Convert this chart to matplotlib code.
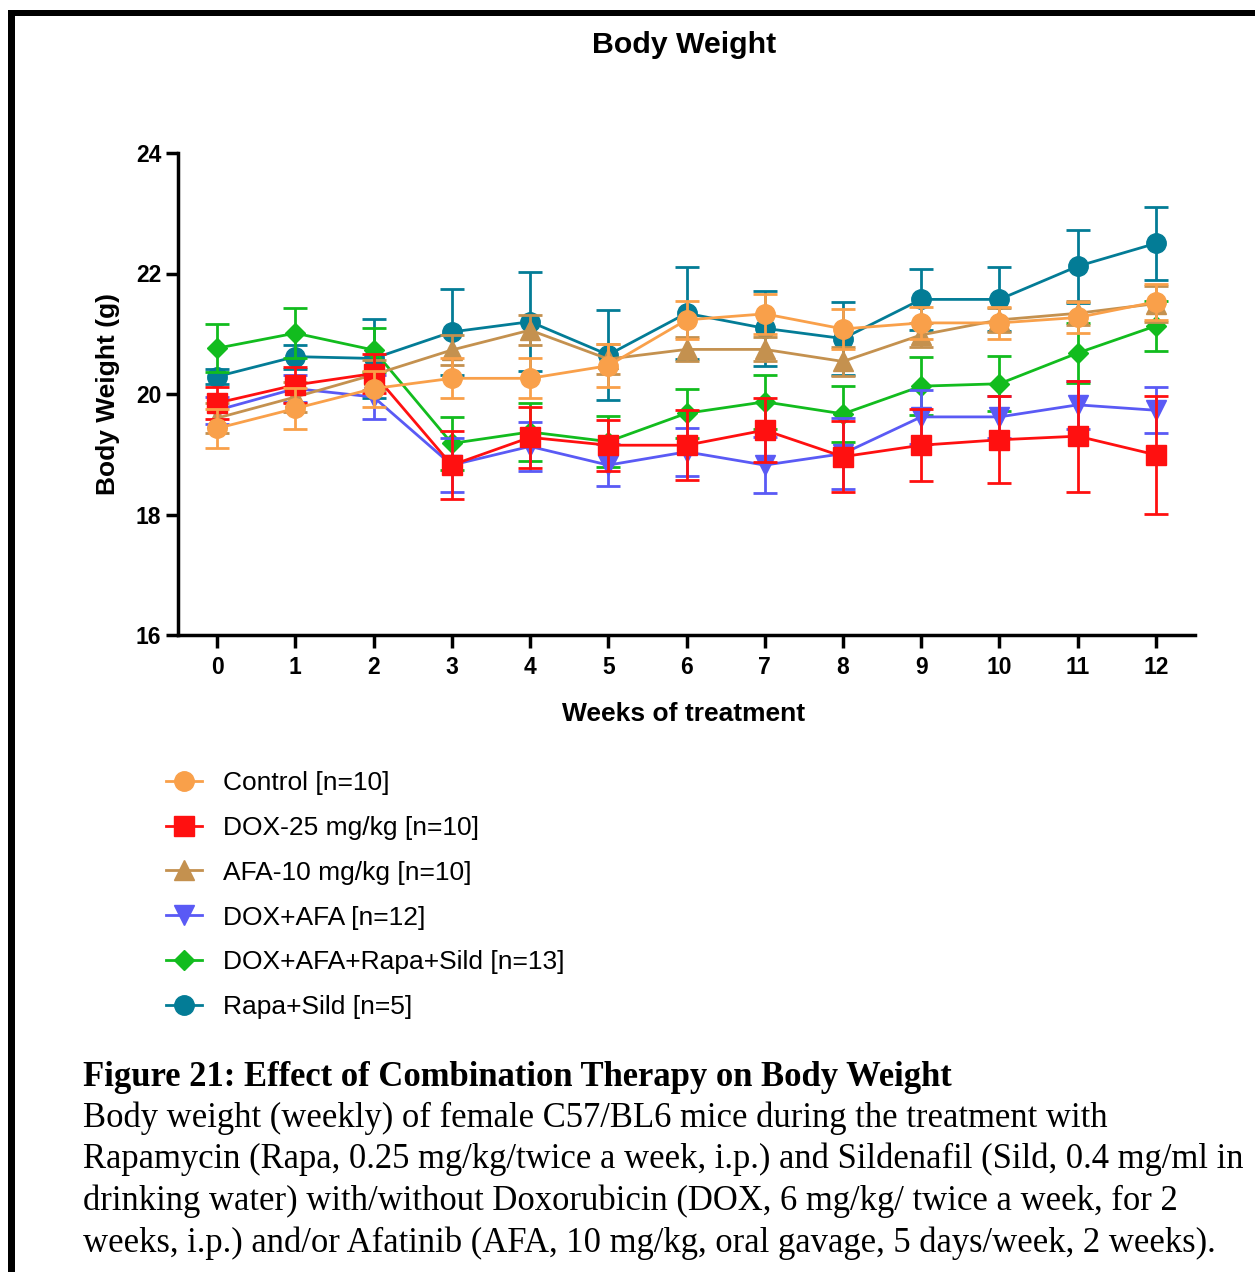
import matplotlib
matplotlib.use("Agg")
import matplotlib.pyplot as plt
from matplotlib.lines import Line2D
from matplotlib.patches import Rectangle

# ---------------- data ----------------
weeks = list(range(13))
week_labels = [str(w) for w in weeks]
y_ticks = [16, 18, 20, 22, 24]

group_names = ["Control [n=10]", "DOX-25 mg/kg [n=10]", "AFA-10 mg/kg [n=10]",
               "DOX+AFA [n=12]", "DOX+AFA+Rapa+Sild [n=13]", "Rapa+Sild [n=5]"]

control = [19.43, 19.76, 20.09, 20.26, 20.26, 20.47, 21.23, 21.33, 21.08, 21.18, 21.18, 21.27, 21.53]
control_err = [0.32, 0.34, 0.30, 0.33, 0.33, 0.36, 0.31, 0.33, 0.33, 0.26, 0.26, 0.26, 0.30]

dox = [19.85, 20.15, 20.34, 18.82, 19.28, 19.15, 19.15, 19.40, 18.96, 19.15, 19.24, 19.30, 18.99]
dox_err = [0.27, 0.30, 0.32, 0.57, 0.50, 0.42, 0.58, 0.53, 0.59, 0.60, 0.72, 0.92, 0.98]

afa = [19.60, 19.95, 20.32, 20.73, 21.06, 20.58, 20.74, 20.74, 20.54, 20.98, 21.23, 21.34, 21.50]
afa_err = [0.25, 0.25, 0.25, 0.25, 0.25, 0.25, 0.20, 0.20, 0.24, 0.20, 0.20, 0.20, 0.30]

dox_afa = [19.73, 20.09, 19.95, 18.82, 19.13, 18.82, 19.04, 18.82, 19.01, 19.62, 19.62, 19.82, 19.73]
dox_afa_err = [0.22, 0.22, 0.37, 0.45, 0.40, 0.35, 0.40, 0.47, 0.59, 0.45, 0.35, 0.40, 0.38]

combo = [20.76, 21.01, 20.73, 19.18, 19.37, 19.21, 19.68, 19.87, 19.67, 20.13, 20.17, 20.68, 21.13]
combo_err = [0.40, 0.41, 0.36, 0.44, 0.48, 0.42, 0.41, 0.45, 0.46, 0.48, 0.46, 0.50, 0.41]

rapa_sild = [20.29, 20.62, 20.59, 21.03, 21.20, 20.65, 21.34, 21.09, 20.92, 21.57, 21.57, 22.12, 22.50]
rapa_sild_err = [0.12, 0.20, 0.65, 0.72, 0.82, 0.75, 0.76, 0.62, 0.60, 0.50, 0.53, 0.61, 0.60]

caption_title = "Figure 21: Effect of Combination Therapy on Body Weight"
caption_lines = [
    "Body weight (weekly) of female C57/BL6 mice during the treatment with",
    "Rapamycin (Rapa, 0.25 mg/kg/twice a week, i.p.) and Sildenafil (Sild, 0.4 mg/ml in",
    "drinking water) with/without Doxorubicin (DOX, 6 mg/kg/ twice a week, for 2",
    "weeks, i.p.) and/or Afatinib (AFA, 10 mg/kg, oral gavage, 5 days/week, 2 weeks).",
]

# ---------------- styles ----------------
series = [
    (control, control_err, "#F9A04A", "o", 14),
    (dox, dox_err, "#FF1010", "s", 14),
    (afa, afa_err, "#C4914F", "^", 14),
    (dox_afa, dox_afa_err, "#5A5AF5", "v", 14),
    (combo, combo_err, "#12BC1E", "D", 10.5),
    (rapa_sild, rapa_sild_err, "#037C96", "o", 14),
]

W, H = 1255, 1272
fig = plt.figure(figsize=(W / 100, H / 100), dpi=100)
fig.patch.set_facecolor("white")

def fx(px):
    return px / W

def fy(py):
    return 1 - py / H

ax = fig.add_axes([fx(178), fy(635), fx(1195) - fx(178), fy(153) - fy(635)])

sans = ["Liberation Sans", "DejaVu Sans"]
serif = ["Liberation Serif", "DejaVu Serif"]

handles = []
n = len(series)
for i, (vals, errs, col, mk, ms) in enumerate(series):
    z = 10 + (n - i)
    ax.errorbar(weeks, vals, yerr=errs, color=col, marker=mk, markersize=ms,
                markeredgecolor=col, linewidth=2.0, elinewidth=2.0,
                capsize=8.5, capthick=2.0, zorder=z)
    handles.append(Line2D([0], [0], color=col, marker=mk, markersize=ms,
                          markeredgecolor=col, linewidth=2.0))

ax.set_xlim(-0.5, 12.5)
ax.set_ylim(16, 24)
ax.set_xticks(weeks)
ax.set_xticklabels(week_labels)
ax.set_yticks(y_ticks)
ax.set_yticklabels([str(t) for t in y_ticks])
for s in ["top", "right"]:
    ax.spines[s].set_visible(False)
for s in ["left", "bottom"]:
    ax.spines[s].set_linewidth(2.5)
    ax.spines[s].set_color("black")
ax.tick_params(axis="both", direction="out", length=9, width=2.5, color="black")
ax.tick_params(axis="y", pad=3)
ax.tick_params(axis="x", pad=6)
for lab in ax.get_xticklabels() + ax.get_yticklabels():
    lab.set_fontfamily(sans)
    lab.set_fontweight("bold")
    lab.set_fontsize(16.5)
ax.set_facecolor("white")

# titles and labels
fig.text(fx(684), fy(53), "Body Weight", ha="center", va="baseline",
         fontsize=21.8, fontweight="bold", family=sans)
fig.text(fx(684), fy(714), "Weeks of treatment", ha="center", va="center",
         fontsize=19, fontweight="bold", family=sans)
fig.text(fx(108), fy(394), "Body Weight (g)", ha="center", va="center",
         rotation=90, fontsize=19, fontweight="bold", family=sans)

# legend
leg = fig.legend(handles, group_names, loc="upper left",
                 bbox_to_anchor=(fx(166), fy(771)), frameon=False,
                 prop={"family": sans, "size": 19}, labelspacing=0.79,
                 handlelength=1.35, handletextpad=0.8, borderpad=0,
                 borderaxespad=0)

# caption
fig.text(fx(83), fy(1086), caption_title, ha="left", va="baseline",
         fontsize=24.9, fontweight="bold", family=serif)
for k, line in enumerate(caption_lines):
    fig.text(fx(83), fy(1127 + 41.5 * k), line, ha="left", va="baseline",
             fontsize=24.9, family=serif)

# page border (top and left)
fig.add_artist(Rectangle((fx(8), fy(16)), 1 - fx(8), fy(10) - fy(16),
                         transform=fig.transFigure, color="black", lw=0))
fig.add_artist(Rectangle((fx(8), 0), fx(15) - fx(8), fy(10),
                         transform=fig.transFigure, color="black", lw=0))

fig.savefig("out.png", dpi=100, facecolor="white")
